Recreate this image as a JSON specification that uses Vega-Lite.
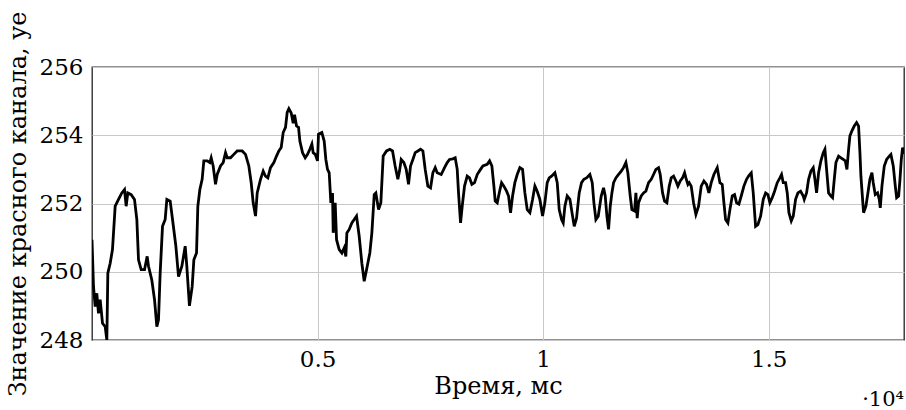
{
 "$schema": "https://vega.github.io/schema/vega-lite/v6.json",
 "width": 812, "height": 273,
 "autosize": "none",
 "padding": {"left": 92, "top": 67, "right": 2, "bottom": 70},
 "background": "white",
 "config": {
  "font": "DejaVu Serif",
  "view": {"stroke": "#222", "strokeWidth": 1.3},
  "axis": {"labelFont": "DejaVu Serif", "titleFont": "DejaVu Serif", "labelFontSize": 23, "titleFontSize": 24, "titleFontWeight": "normal", "labelColor": "black", "titleColor": "black", "gridColor": "#c8c8c8", "gridWidth": 1, "ticks": false, "domain": false}
 },
 "title": {"text": "·10⁴", "orient": "bottom", "anchor": "end", "frame": "group", "fontSize": 21, "fontWeight": "normal", "font": "DejaVu Serif", "color": "black", "offset": 0, "dy": -9},
 "data": {"values": [
{"t":0,"v":250.94},{"t":33,"v":249.57},{"t":70,"v":248.98},{"t":107,"v":249.37},{"t":144,"v":248.78},{"t":181,"v":249.18},{"t":233,"v":248.49},{"t":292,"v":248.39},{"t":329,"v":248.0},{"t":351,"v":249.96},{"t":403,"v":250.25},{"t":454,"v":250.65},{"t":514,"v":251.92},{"t":588,"v":252.12},{"t":661,"v":252.31},{"t":721,"v":252.41},{"t":757,"v":251.92},{"t":794,"v":252.31},{"t":868,"v":252.26},{"t":942,"v":252.12},{"t":994,"v":251.53},{"t":1031,"v":250.35},{"t":1090,"v":250.06},{"t":1164,"v":250.06},{"t":1223,"v":250.45},{"t":1253,"v":250.16},{"t":1326,"v":249.76},{"t":1386,"v":249.18},{"t":1437,"v":248.39},{"t":1474,"v":248.59},{"t":1511,"v":249.96},{"t":1563,"v":251.33},{"t":1622,"v":251.53},{"t":1659,"v":252.12},{"t":1733,"v":252.07},{"t":1785,"v":251.53},{"t":1859,"v":250.75},{"t":1918,"v":249.86},{"t":1992,"v":250.16},{"t":2066,"v":250.75},{"t":2102,"v":250.16},{"t":2160,"v":249.0},
{"t":2221,"v":249.57},{"t":2258,"v":250.35},{"t":2317,"v":250.55},{"t":2346,"v":251.92},{"t":2391,"v":252.41},{"t":2442,"v":252.71},{"t":2479,"v":253.25},{"t":2553,"v":253.25},{"t":2612,"v":253.2},{"t":2642,"v":253.34},{"t":2686,"v":253.1},{"t":2738,"v":252.56},{"t":2775,"v":252.85},{"t":2849,"v":253.1},{"t":2908,"v":253.2},{"t":2960,"v":253.49},{"t":2997,"v":253.34},{"t":3071,"v":253.34},{"t":3144,"v":253.44},{"t":3218,"v":253.54},{"t":3329,"v":253.54},{"t":3403,"v":253.44},{"t":3477,"v":253.1},{"t":3529,"v":252.61},{"t":3573,"v":252.02},{"t":3625,"v":251.63},{"t":3662,"v":252.31},{"t":3736,"v":252.71},{"t":3795,"v":252.95},{"t":3846,"v":252.8},{"t":3898,"v":252.75},{"t":3957,"v":253.05},{"t":4031,"v":253.2},{"t":4090,"v":253.39},{"t":4142,"v":253.54},{"t":4194,"v":253.64},{"t":4238,"v":254.08},{"t":4290,"v":254.23},{"t":4327,"v":254.67},{"t":4364,"v":254.78},{"t":4416,"v":254.65},{"t":4460,"v":254.35},{"t":4490,"v":254.6},
{"t":4534,"v":254.27},{"t":4578,"v":254.23},{"t":4608,"v":253.83},{"t":4667,"v":253.49},{"t":4726,"v":253.34},{"t":4778,"v":253.44},{"t":4829,"v":253.59},{"t":4874,"v":253.74},{"t":4903,"v":253.49},{"t":4948,"v":253.44},{"t":4999,"v":253.25},{"t":5021,"v":254.03},{"t":5095,"v":254.08},{"t":5147,"v":253.83},{"t":5184,"v":253.29},{"t":5221,"v":253.0},{"t":5258,"v":252.9},{"t":5295,"v":252.02},{"t":5332,"v":252.31},{"t":5347,"v":251.14},{"t":5391,"v":252.02},{"t":5421,"v":250.94},{"t":5480,"v":250.65},{"t":5539,"v":250.55},{"t":5591,"v":250.7},{"t":5627,"v":250.45},{"t":5650,"v":251.14},{"t":5701,"v":251.24},{"t":5760,"v":251.43},{"t":5812,"v":251.53},{"t":5864,"v":251.63},{"t":5923,"v":251.04},{"t":5982,"v":250.25},{"t":6034,"v":249.72},{"t":6086,"v":250.06},{"t":6159,"v":250.55},{"t":6204,"v":251.14},{"t":6256,"v":252.26},{"t":6292,"v":252.31},{"t":6352,"v":251.82},{"t":6403,"v":252.02},{"t":6455,"v":253.39},{"t":6529,"v":253.54},{"t":6603,"v":253.59},{"t":6662,"v":253.54},{"t":6720,"v":253.1},
{"t":6780,"v":252.71},{"t":6817,"v":252.95},{"t":6854,"v":253.29},{"t":6913,"v":253.2},{"t":6965,"v":253.0},{"t":7017,"v":252.56},{"t":7061,"v":253.1},{"t":7113,"v":253.29},{"t":7165,"v":253.49},{"t":7224,"v":253.54},{"t":7283,"v":253.59},{"t":7335,"v":253.54},{"t":7386,"v":253.0},{"t":7445,"v":252.51},{"t":7505,"v":252.46},{"t":7556,"v":252.9},{"t":7608,"v":253.05},{"t":7652,"v":252.9},{"t":7741,"v":252.85},{"t":7815,"v":253.05},{"t":7874,"v":253.2},{"t":7926,"v":253.29},{"t":8000,"v":253.31},{"t":8051,"v":253.34},{"t":8096,"v":253.0},{"t":8125,"v":252.31},{"t":8170,"v":251.43},{"t":8207,"v":251.92},{"t":8258,"v":252.51},{"t":8317,"v":252.8},{"t":8369,"v":252.75},{"t":8421,"v":252.56},{"t":8480,"v":252.61},{"t":8539,"v":252.85},{"t":8613,"v":253.0},{"t":8665,"v":253.1},{"t":8761,"v":253.15},{"t":8813,"v":253.25},{"t":8864,"v":253.1},{"t":8909,"v":252.51},{"t":8938,"v":252.07},{"t":8983,"v":252.02},
{"t":9027,"v":252.31},{"t":9079,"v":252.61},{"t":9130,"v":252.51},{"t":9190,"v":252.36},{"t":9234,"v":252.22},{"t":9278,"v":251.73},{"t":9323,"v":252.22},{"t":9374,"v":252.61},{"t":9426,"v":252.85},{"t":9485,"v":253.05},{"t":9544,"v":253.0},{"t":9596,"v":252.31},{"t":9648,"v":251.82},{"t":9707,"v":251.73},{"t":9766,"v":252.12},{"t":9818,"v":252.51},{"t":9869,"v":252.36},{"t":9928,"v":252.12},{"t":9988,"v":251.63},{"t":10039,"v":252.02},{"t":10091,"v":252.61},{"t":10135,"v":252.75},{"t":10187,"v":252.8},{"t":10261,"v":252.9},{"t":10313,"v":252.61},{"t":10357,"v":251.82},{"t":10409,"v":251.53},{"t":10446,"v":251.43},{"t":10483,"v":251.92},{"t":10534,"v":252.22},{"t":10594,"v":252.12},{"t":10653,"v":251.63},{"t":10690,"v":251.33},{"t":10741,"v":251.57},{"t":10800,"v":252.31},{"t":10852,"v":252.61},{"t":10904,"v":252.71},{"t":10963,"v":252.75},{"t":11037,"v":252.85},{"t":11089,"v":252.61},{"t":11126,"v":252.02},{"t":11170,"v":251.53},{"t":11222,"v":251.63},
{"t":11288,"v":252.22},{"t":11340,"v":252.46},{"t":11377,"v":252.22},{"t":11414,"v":251.63},{"t":11451,"v":251.24},{"t":11488,"v":251.92},{"t":11525,"v":252.31},{"t":11562,"v":252.61},{"t":11613,"v":252.75},{"t":11673,"v":252.85},{"t":11732,"v":252.95},{"t":11783,"v":253.05},{"t":11835,"v":253.2},{"t":11879,"v":252.9},{"t":11931,"v":252.22},{"t":11968,"v":251.82},{"t":12027,"v":251.78},{"t":12057,"v":252.31},{"t":12086,"v":251.57},{"t":12116,"v":252.02},{"t":12175,"v":252.22},{"t":12227,"v":252.31},{"t":12278,"v":252.36},{"t":12338,"v":252.61},{"t":12397,"v":252.71},{"t":12448,"v":252.85},{"t":12500,"v":253.0},{"t":12559,"v":253.05},{"t":12596,"v":252.85},{"t":12648,"v":252.31},{"t":12692,"v":252.07},{"t":12744,"v":252.02},{"t":12796,"v":252.51},{"t":12840,"v":252.75},{"t":12892,"v":252.8},{"t":12944,"v":252.66},{"t":12988,"v":252.51},{"t":13040,"v":252.66},{"t":13091,"v":252.75},{"t":13136,"v":252.9},{"t":13165,"v":252.75},{"t":13210,"v":252.56},{"t":13239,"v":252.61},{"t":13283,"v":252.51},{"t":13335,"v":252.02},{"t":13387,"v":251.68},{"t":13446,"v":251.92},{"t":13505,"v":252.51},
{"t":13564,"v":252.66},{"t":13623,"v":252.56},{"t":13675,"v":252.31},{"t":13727,"v":252.61},{"t":13786,"v":252.85},{"t":13860,"v":253.05},{"t":13919,"v":252.61},{"t":13971,"v":252.56},{"t":14008,"v":252.02},{"t":14045,"v":251.53},{"t":14096,"v":251.43},{"t":14141,"v":251.82},{"t":14193,"v":252.22},{"t":14244,"v":252.26},{"t":14289,"v":252.02},{"t":14340,"v":251.98},{"t":14392,"v":252.22},{"t":14451,"v":252.51},{"t":14510,"v":252.71},{"t":14562,"v":252.82},{"t":14614,"v":252.9},{"t":14658,"v":252.31},{"t":14710,"v":251.33},{"t":14761,"v":251.38},{"t":14821,"v":251.63},{"t":14880,"v":252.12},{"t":14932,"v":252.31},{"t":14983,"v":252.26},{"t":15027,"v":252.02},{"t":15079,"v":252.17},{"t":15131,"v":252.36},{"t":15190,"v":252.61},{"t":15249,"v":252.75},{"t":15286,"v":252.85},{"t":15323,"v":252.61},{"t":15375,"v":252.61},{"t":15412,"v":252.31},{"t":15449,"v":251.73},{"t":15501,"v":251.49},{"t":15545,"v":251.63},{"t":15597,"v":252.12},{"t":15648,"v":252.31},{"t":15708,"v":252.36},{"t":15767,"v":252.22},
{"t":15789,"v":252.12},{"t":15840,"v":252.31},{"t":15885,"v":252.71},{"t":15937,"v":252.95},{"t":15988,"v":253.05},{"t":16025,"v":252.71},{"t":16062,"v":252.31},{"t":16107,"v":252.9},{"t":16158,"v":253.25},{"t":16210,"v":253.49},{"t":16247,"v":253.59},{"t":16284,"v":253.0},{"t":16328,"v":252.31},{"t":16380,"v":252.22},{"t":16417,"v":252.17},{"t":16454,"v":252.71},{"t":16491,"v":253.2},{"t":16550,"v":253.39},{"t":16602,"v":253.34},{"t":16653,"v":253.29},{"t":16698,"v":253.25},{"t":16735,"v":253.0},{"t":16772,"v":253.59},{"t":16801,"v":253.98},{"t":16846,"v":254.13},{"t":16897,"v":254.27},{"t":16949,"v":254.37},{"t":16993,"v":254.27},{"t":17023,"v":253.49},{"t":17045,"v":252.8},{"t":17082,"v":252.12},{"t":17104,"v":251.73},{"t":17156,"v":251.92},{"t":17200,"v":252.31},{"t":17244,"v":252.71},{"t":17289,"v":252.9},{"t":17318,"v":252.61},{"t":17363,"v":252.26},{"t":17415,"v":252.31},{"t":17452,"v":252.12},{"t":17474,"v":251.87},{"t":17511,"v":252.51},{"t":17563,"v":253.1},{"t":17615,"v":253.29},{"t":17674,"v":253.39},{"t":17710,"v":253.44},{"t":17762,"v":253.1},{"t":17807,"v":252.51},{"t":17837,"v":252.17},{"t":17881,"v":252.22},{"t":17911,"v":252.71},{"t":17940,"v":253.29},{"t":17969,"v":253.64},{"t":18000,"v":253.45}
 ]},
 "mark": {"type": "line", "color": "black", "strokeWidth": 2.8, "clip": true},
 "encoding": {
  "x": {"field": "t", "type": "quantitative", "scale": {"domain": [0, 18000], "nice": false, "zero": false},
        "axis": {"values": [5000, 10000, 15000], "labelExpr": "datum.value/10000", "title": "Время, мс", "grid": true, "labelPadding": 8, "titlePadding": 3}},
  "y": {"field": "v", "type": "quantitative", "scale": {"domain": [248, 256], "nice": false, "zero": false},
        "axis": {"values": [248, 250, 252, 254, 256], "title": "Значение красного канала, уе", "grid": true, "labelPadding": 9, "titlePadding": 9}}
 }
}
